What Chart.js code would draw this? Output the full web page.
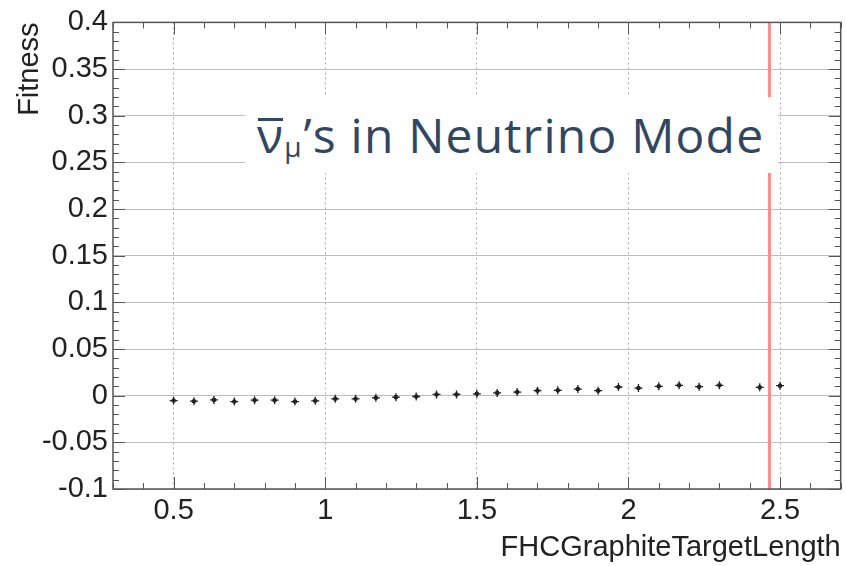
<!DOCTYPE html>
<html>
<head>
<meta charset="utf-8">
<script src="https://cdn.jsdelivr.net/npm/chart.js@4.4.1/dist/chart.umd.min.js"></script>
<style>
  body { margin: 0; background: #fff; }
  #wrap { position: relative; width: 846px; height: 566px; }
  #note {
    position: absolute; left: 245px; top: 97px; width: 533px; height: 76px;
    background: #fff; color: #30475f; font-family: 'Open Sans', sans-serif; font-size: 48px;
    letter-spacing: 1.2px; line-height: 76px; padding-left: 12px; box-sizing: border-box; white-space: nowrap;
  }
  #note .nu { position: relative; }
  #note .nu::before {
    content: ''; position: absolute; left: 1px; right: 1px; top: 16px; height: 3px; background: currentColor;
  }
  #note .mu { font-size: 28px; position: relative; top: 4px; letter-spacing: 2px; }
</style>
</head>
<body>
<div id="wrap">
  <canvas id="c" width="846" height="566"></canvas>
  <div id="note"><span class="nu">ν</span><span class="mu">μ</span>’s in Neutrino Mode</div>
</div>
<script>
// target length scan (x) and fitness (y)
const targetLength = [0.5, 0.567, 0.633, 0.7, 0.767, 0.833, 0.9, 0.967, 1.033, 1.1,
  1.167, 1.233, 1.3, 1.367, 1.433, 1.5, 1.567, 1.633, 1.7, 1.767,
  1.833, 1.9, 1.967, 2.033, 2.1, 2.167, 2.233, 2.3, 2.433, 2.5];
const fitness = [-0.0052, -0.0059, -0.0045, -0.0063, -0.0048, -0.0048, -0.0063, -0.0055, -0.0034, -0.0034,
  -0.0023, -0.0016, -0.0009, 0.0013, 0.0013, 0.002, 0.003, 0.0039, 0.0054, 0.0057,
  0.0071, 0.0054, 0.0093, 0.0082, 0.01, 0.0111, 0.0096, 0.0111, 0.0089, 0.0107];
const nominalX = 2.465;

const xTicks = [0.5, 1, 1.5, 2, 2.5];
const xTickLabels = ['0.5', '1', '1.5', '2', '2.5'];
const yTicks = [-0.1, -0.05, 0, 0.05, 0.1, 0.15, 0.2, 0.25, 0.3, 0.35, 0.4];
const yTickLabels = ['-0.1', '-0.05', '0', '0.05', '0.1', '0.15', '0.2', '0.25', '0.3', '0.35', '0.4'];

const points = targetLength.map((v, i) => ({x: v, y: fitness[i]}));
const axisFont = {family: 'Liberation Sans', size: 29};

// ROOT style frame with inward minor ticks
const frameTicks = {
  id: 'frameTicks',
  afterDraw(chart) {
    const {ctx, chartArea: a, scales: {x, y}} = chart;
    ctx.save();
    ctx.strokeStyle = '#555';
    ctx.lineWidth = 1.5;
    ctx.strokeRect(a.left, a.top, a.right - a.left, a.bottom - a.top);
    ctx.lineWidth = 1;
    ctx.beginPath();
    for (let i = 0; i <= 50; i++) {
      const py = Math.round(y.getPixelForValue(-0.1 + i * 0.01)) + 0.5;
      const len = i % 5 === 0 ? 12 : 6;
      ctx.moveTo(a.left, py); ctx.lineTo(a.left + len, py);
      ctx.moveTo(a.right, py); ctx.lineTo(a.right - len, py);
    }
    for (let i = 3; i <= 27; i++) {
      const px = Math.round(x.getPixelForValue(i / 10)) + 0.5;
      const len = i % 5 === 0 ? 12 : 6;
      ctx.moveTo(px, a.bottom); ctx.lineTo(px, a.bottom - len);
      ctx.moveTo(px, a.top); ctx.lineTo(px, a.top + len);
    }
    ctx.stroke();
    ctx.restore();
  }
};

new Chart(document.getElementById('c'), {
  type: 'scatter',
  data: {
    datasets: [
      {
        type: 'line',
        data: [{x: nominalX, y: -0.1}, {x: nominalX, y: 0.4}],
        borderColor: '#ff8c8c',
        borderWidth: 3,
        pointRadius: 0
      },
      {
        data: points,
        pointStyle: 'cross',
        pointRadius: 4,
        borderWidth: 1.3,
        borderColor: '#222',
        backgroundColor: '#222'
      },
      {
        data: points,
        pointStyle: 'circle',
        pointRadius: 2.3,
        borderWidth: 0,
        backgroundColor: '#222'
      }
    ]
  },
  options: {
    responsive: false,
    animation: false,
    layout: {padding: {top: 22, right: 4, left: 0, bottom: 0}},
    plugins: {legend: {display: false}, tooltip: {enabled: false}},
    scales: {
      x: {
        type: 'linear',
        min: 0.3,
        max: 2.7,
        afterBuildTicks: s => { s.ticks = xTicks.map(v => ({value: v})); },
        afterFit: s => { s.height = 77; },
        ticks: {font: axisFont, color: '#222', padding: 5, callback: (v, i) => xTickLabels[i]},
        grid: {color: '#aaa', lineWidth: 1, drawTicks: false},
        border: {display: false, dash: [2, 3]},
        title: {display: true, text: 'FHCGraphiteTargetLength', align: 'end', font: axisFont,
          color: '#222', padding: {top: 0, bottom: 1}}
      },
      y: {
        min: -0.1,
        max: 0.4,
        afterBuildTicks: s => { s.ticks = yTicks.map(v => ({value: v})); },
        afterFit: s => { s.width = 113; },
        ticks: {font: axisFont, color: '#222', padding: 5, callback: (v, i) => yTickLabels[i]},
        grid: {color: '#bdbdbd', lineWidth: 1, drawTicks: false},
        border: {display: false},
        title: {display: true, text: 'Fitness', align: 'end', font: axisFont,
          color: '#222', padding: {top: 13, bottom: 0}}
      }
    }
  },
  plugins: [frameTicks]
});
</script>
</body>
</html>
